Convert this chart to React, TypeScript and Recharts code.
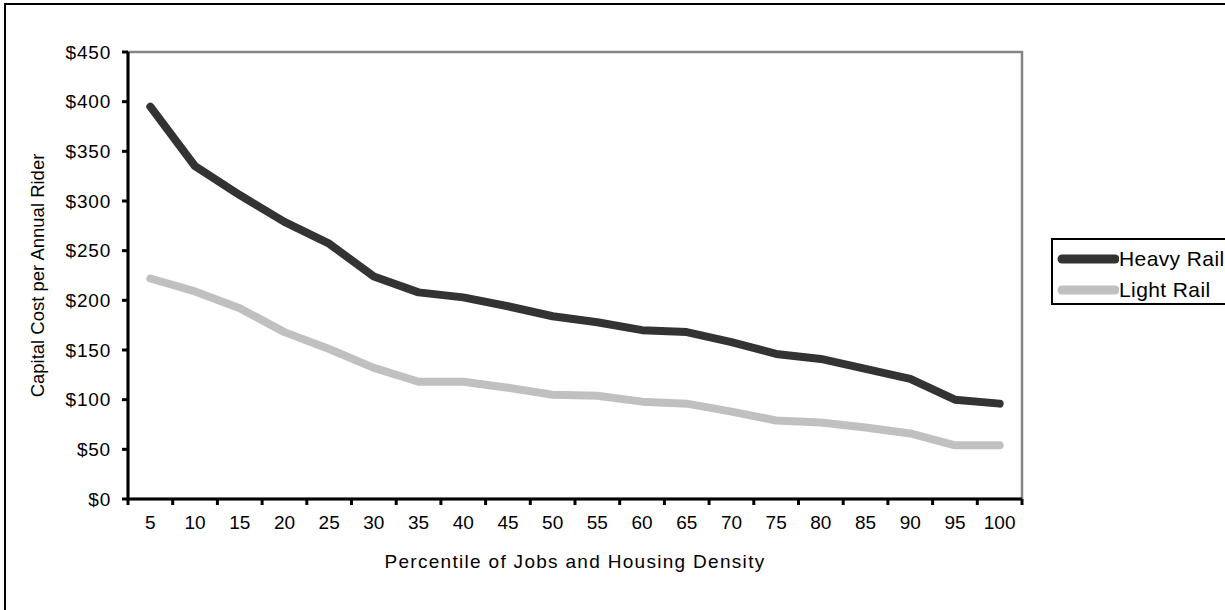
import { Line, LineChart, ReferenceArea, XAxis, YAxis } from "recharts";

const percentiles = ["5", "10", "15", "20", "25", "30", "35", "40", "45", "50", "55", "60", "65", "70", "75", "80", "85", "90", "95", "100"];
const heavyRail = [395, 335, 306, 279, 257, 224, 208, 203, 194, 184, 178, 170, 168, 158, 146, 141, 131, 121, 100, 96];
const lightRail = [222, 209, 192, 168, 151, 132, 118, 118, 112, 105, 104, 98, 96, 88, 79, 77, 72, 66, 54, 54];
const costTicks = [0, 50, 100, 150, 200, 250, 300, 350, 400, 450];

const series = [
  { key: "heavy", name: "Heavy Rail", color: "#333333" },
  { key: "light", name: "Light Rail", color: "#c0c0c0" },
];

const FRAME = "#858585";
const FONT = '"Liberation Sans", Arial, sans-serif';

const W = 1225;
const H = 610;
const PLOT_LEFT = 128;
const PLOT_RIGHT = 1022;
const PLOT_TOP = 52;
const PLOT_BOTTOM = 499;

const rows = percentiles.map((p, i) => ({
  pct: p,
  heavy: heavyRail[i],
  light: lightRail[i],
}));

const X_TICK_SIZE = 6;
const X_TICK_MARGIN = 11;

// labels centred in each band, tick marks drawn on the band edges
function PercentileTick(props: any) {
  const { x, y, payload, index, visibleTicksCount } = props;
  const count = visibleTicksCount || percentiles.length;
  const band = (PLOT_RIGHT - PLOT_LEFT) / count;
  const axisY = y - X_TICK_SIZE - X_TICK_MARGIN;
  return (
    <g>
      <line x1={x - band / 2} x2={x - band / 2} y1={axisY} y2={axisY + X_TICK_SIZE} stroke="#000" strokeWidth={3} />
      {index === count - 1 && (
        <line x1={x + band / 2} x2={x + band / 2} y1={axisY} y2={axisY + X_TICK_SIZE} stroke="#000" strokeWidth={3} />
      )}
      <text x={x} y={y} dy="0.71em" textAnchor="middle" fill="#000" fontSize={19} fontFamily={FONT}>
        {payload.value}
      </text>
    </g>
  );
}

function YTitle(props: any) {
  const vb = props.viewBox || {};
  const cy = (vb.y ?? PLOT_TOP) + (vb.height ?? PLOT_BOTTOM - PLOT_TOP) / 2;
  return (
    <text
      x={37}
      y={cy}
      transform={`rotate(-90 37 ${cy})`}
      textAnchor="middle"
      dominantBaseline="central"
      fill="#000"
      fontSize={18.5}
      fontFamily={FONT}
    >
      Capital Cost per Annual Rider
    </text>
  );
}

// the legend box runs past the right edge of the chart area
function LegendBox() {
  return (
    <div
      style={{
        position: "absolute",
        left: 1051,
        top: 238,
        width: 190,
        height: 67,
        border: "2px solid #000",
        background: "#fff",
        boxSizing: "border-box",
        padding: "3px 0 0 4px",
      }}
    >
      {series.map((s) => (
        <div key={s.key} style={{ display: "flex", alignItems: "center", height: 31 }}>
          <svg width={62} height={12} style={{ flex: "none" }}>
            <line x1={5} x2={58} y1={6} y2={6} stroke={s.color} strokeWidth={9} strokeLinecap="round" />
          </svg>
          <span
            style={{
              fontFamily: FONT,
              fontSize: 21,
              color: "#000",
              letterSpacing: 0.4,
              whiteSpace: "nowrap",
            }}
          >
            {s.name}
          </span>
        </div>
      ))}
    </div>
  );
}

export default function App() {
  return (
    <div
      style={{
        position: "fixed",
        left: 0,
        top: 0,
        width: W,
        height: H,
        background: "#fff",
        overflow: "hidden",
      }}
    >
      <div
        style={{
          position: "absolute",
          left: 4,
          top: 3,
          width: W + 40,
          height: H + 40,
          border: "2px solid #000",
          boxSizing: "border-box",
        }}
      />
      <LineChart
        width={W}
        height={H}
        data={rows}
        margin={{ top: PLOT_TOP, right: W - PLOT_RIGHT, left: 0, bottom: 0 }}
        style={{ position: "absolute", left: 0, top: 0 }}
      >
        <ReferenceArea y1={0} y2={450} fill="none" stroke={FRAME} strokeWidth={2.5} />
        <XAxis
          dataKey="pct"
          scale="band"
          interval={0}
          height={H - PLOT_BOTTOM}
          axisLine={{ stroke: "#000", strokeWidth: 3 }}
          tickLine={false}
          tickSize={X_TICK_SIZE}
          tickMargin={X_TICK_MARGIN}
          tick={<PercentileTick />}
          label={{
            value: "Percentile of Jobs and Housing Density",
            position: "insideTop",
            offset: 56,
            fill: "#000",
            fontSize: 19,
            letterSpacing: 1.3,
            fontFamily: FONT,
          }}
        />
        <YAxis
          domain={[0, 450]}
          ticks={costTicks}
          interval={0}
          width={PLOT_LEFT}
          tickFormatter={(v) => `$${v}`}
          axisLine={{ stroke: "#000", strokeWidth: 3 }}
          tickLine={{ stroke: "#000", strokeWidth: 3 }}
          tickSize={6}
          tickMargin={11}
          tick={{ fill: "#000", fontSize: 19, letterSpacing: 0.8, fontFamily: FONT }}
          label={<YTitle />}
        />
        {series.map((s) => (
          <Line
            key={s.key}
            name={s.name}
            dataKey={s.key}
            stroke={s.color}
            strokeWidth={8}
            strokeLinecap="round"
            strokeLinejoin="round"
            dot={false}
            isAnimationActive={false}
          />
        ))}
      </LineChart>
      <LegendBox />
    </div>
  );
}
